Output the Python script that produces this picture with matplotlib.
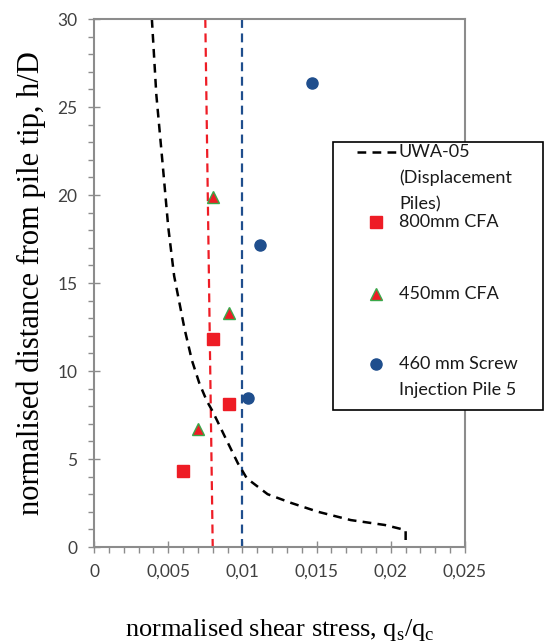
import matplotlib.pyplot as plt
from matplotlib.lines import Line2D
from matplotlib.patches import Rectangle
from matplotlib.ticker import MultipleLocator, FuncFormatter

# UWA-05 design line (displacement piles)
uwa_x = [0.0039, 0.0042, 0.0046, 0.0050, 0.0054, 0.0061, 0.0066, 0.0071, 0.0076, 0.0080,
         0.0088, 0.0097, 0.0103, 0.0117, 0.0133, 0.0151, 0.0173, 0.0196, 0.0210, 0.0210]
uwa_h = [30.0, 25.7, 22.0, 18.2, 15.4, 12.4, 10.6, 9.3, 8.3, 7.7,
         6.3, 4.75, 3.9, 3.0, 2.5, 2.0, 1.53, 1.25, 0.96, 0.0]

cfa800_x = [0.0060, 0.0091, 0.0080]
cfa800_h = [4.3, 8.1, 11.8]
cfa450_x = [0.0070, 0.0091, 0.0080]
cfa450_h = [6.7, 13.3, 19.9]
screw_x = [0.0104, 0.0112, 0.0147]
screw_h = [8.45, 17.15, 26.35]

# average lines
red_avg_x = [0.0075, 0.0080]
red_avg_h = [30, 0]
blue_avg_x = [0.0100, 0.0100]
blue_avg_h = [30, 0]

RED = "#ee1c25"
BLUE = "#1f4e8d"
GREEN = "#3aa84a"
GRAY = "#8c8c8c"

fig = plt.figure(figsize=(5.44, 6.42), dpi=100)
ax = fig.add_axes([94 / 544, 1 - 547 / 642, (465 - 94) / 544, (547 - 19) / 642])

ax.plot(red_avg_x, red_avg_h, color=RED, lw=1.6, dashes=(4, 2.5))
ax.plot(blue_avg_x, blue_avg_h, color=BLUE, lw=1.6, dashes=(4, 2.5))
ax.plot(uwa_x, uwa_h, color="black", lw=1.8, dashes=(3.5, 2.5))
ax.plot(cfa800_x, cfa800_h, "s", color=RED, ms=8.5, ls="none")
ax.plot(cfa450_x, cfa450_h, "^", color=RED, mec=GREEN, mew=1, ms=9, ls="none")
ax.plot(screw_x, screw_h, "o", color=BLUE, ms=8, ls="none")

ax.set_xlim(0, 0.025)
ax.set_ylim(0, 30)
ax.xaxis.set_major_locator(MultipleLocator(0.005))
ax.xaxis.set_minor_locator(MultipleLocator(0.001))
ax.yaxis.set_major_locator(MultipleLocator(5))
ax.yaxis.set_minor_locator(MultipleLocator(1))


def comma(v, pos):
    s = f"{v:.3f}".rstrip("0").rstrip(".")
    return s.replace(".", ",")


ax.xaxis.set_major_formatter(FuncFormatter(comma))
for s in ax.spines.values():
    s.set_color(GRAY)
    s.set_linewidth(1.5)
ax.tick_params(which="major", direction="inout", length=8, width=1, color=GRAY,
               labelsize=12.5, labelcolor="#404040", pad=8)
ax.tick_params(which="minor", direction="out", length=4, width=1, color=GRAY)
for lab in ax.get_xticklabels() + ax.get_yticklabels():
    lab.set_family("Lato")

ax.set_xlabel("normalised shear stress, q$_\\mathregular{s}$/q$_\\mathregular{c}$",
              family="Liberation Serif", fontsize=19, labelpad=27)
ax.set_ylabel("normalised distance from pile tip, h/D",
              family="Liberation Serif", fontsize=22, labelpad=8)

# legend drawn by hand to copy the Excel layout
fig.add_artist(Rectangle((333 / 544, 1 - 410 / 642), 210 / 544, 268 / 642,
                         transform=fig.transFigure, fill=True, fc="white",
                         ec="black", lw=1.2))


def fy(py):
    return 1 - py / 642


fig.add_artist(Line2D([357 / 544, 396 / 544], [fy(152), fy(152)], color="black",
                      lw=1.8, dashes=(3.5, 2.5), transform=fig.transFigure))
fig.add_artist(Line2D([376 / 544], [fy(222)], marker="s", color=RED, ms=8.5,
                      transform=fig.transFigure))
fig.add_artist(Line2D([376 / 544], [fy(294)], marker="^", color=RED, mec=GREEN,
                      mew=1, ms=9, transform=fig.transFigure))
fig.add_artist(Line2D([376 / 544], [fy(364)], marker="o", color=BLUE, ms=8,
                      transform=fig.transFigure))

leg_labels = [("UWA-05", 152), ("(Displacement", 178), ("Piles)", 204),
              ("800mm CFA", 222), ("450mm CFA", 294),
              ("460 mm Screw", 364), ("Injection Pile 5", 390)]
for txt, py in leg_labels:
    fig.text(399 / 544, fy(py), txt, family="Lato", fontsize=13,
             color="#1a1a1a", va="center", ha="left")

fig.savefig("out.png", dpi=100)
